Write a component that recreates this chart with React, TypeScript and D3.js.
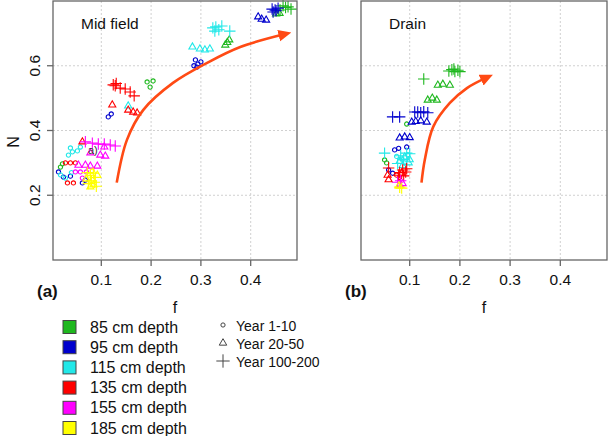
import React from "react";
import * as d3 from "d3";

// ---- data: [f, N, yearGroup]  (0 = Year 1-10, 1 = Year 20-50, 2 = Year 100-200)
const depthLabels = ["85 cm depth", "95 cm depth", "115 cm depth", "135 cm depth", "155 cm depth", "185 cm depth"];
const yearLabels = ["Year 1-10", "Year 20-50", "Year 100-200"];
const xTicks = [0.1, 0.2, 0.3, 0.4];
const yTicks = [0.2, 0.4, 0.6];
const panelTitles = ["Mid field", "Drain"];
const panelTags = ["(a)", "(b)"];

const mid85 = [[0.192,0.550,0],[0.198,0.534,0],[0.204,0.553,0],[0.018,0.287,0],[0.022,0.297,0],
  [0.349,0.664,1],[0.353,0.672,1],[0.357,0.680,1],[0.451,0.760,1],[0.458,0.762,1],
  [0.459,0.772,2],[0.465,0.785,2],[0.470,0.780,2],[0.475,0.782,2],[0.481,0.775,2]];
const mid95 = [[0.289,0.618,0],[0.294,0.605,0],[0.300,0.612,0],[0.292,0.596,0],[0.286,0.600,0],[0.114,0.442,0],[0.120,0.451,0],[0.014,0.272,0],[0.024,0.256,0],[0.038,0.259,0],[0.062,0.238,0],[0.068,0.247,0],
  [0.415,0.751,1],[0.422,0.744,1],[0.431,0.741,1],
  [0.443,0.775,2],[0.449,0.772,2],[0.455,0.778,2],[0.445,0.766,2],[0.451,0.770,2]];
const mid115 = [[0.038,0.346,0],[0.042,0.334,0],[0.034,0.324,0],[0.052,0.337,0],[0.058,0.349,0],[0.018,0.263,0],[0.028,0.253,0],[0.040,0.270,0],
  [0.283,0.658,1],[0.298,0.652,1],[0.308,0.649,1],[0.318,0.652,1],[0.154,0.476,1],
  [0.324,0.717,2],[0.330,0.720,2],[0.336,0.711,2],[0.342,0.723,2],[0.328,0.707,2],[0.358,0.707,2]];
const mid135 = [[0.028,0.300,0],[0.038,0.300,0],[0.048,0.300,0],[0.032,0.238,0],[0.044,0.238,0],
  [0.122,0.479,1],[0.154,0.463,1],[0.164,0.457,1],[0.172,0.454,1],[0.062,0.365,1],
  [0.124,0.541,2],[0.128,0.538,2],[0.138,0.531,2],[0.148,0.528,2],[0.158,0.519,2],[0.166,0.507,2],[0.130,0.545,2]];
const mid155 = [[0.048,0.272,0],[0.058,0.272,0],[0.070,0.272,0],[0.062,0.253,0],
  [0.078,0.331,1],[0.098,0.324,1],[0.108,0.321,1],[0.054,0.293,1],[0.068,0.293,1],[0.078,0.290,1],[0.092,0.290,1],[0.106,0.349,1],
  [0.068,0.365,2],[0.082,0.361,2],[0.094,0.358,2],[0.106,0.358,2],[0.118,0.355,2],[0.128,0.352,2]];
const mid185 = [[0.072,0.270,2],[0.078,0.262,2],[0.084,0.268,2],[0.088,0.255,2],[0.080,0.245,2],[0.074,0.236,2],[0.086,0.240,2],[0.090,0.228,2],
  [0.078,0.226,1],[0.084,0.232,1],[0.070,0.250,1],[0.092,0.262,1],[0.082,0.275,0],[0.076,0.255,0]];

const drain85 = [[0.094,0.420,0],[0.050,0.309,0],[0.054,0.300,0],
  [0.156,0.540,1],[0.166,0.543,1],[0.180,0.540,1],[0.136,0.494,1],[0.145,0.500,1],[0.154,0.494,1],
  [0.128,0.559,2],[0.178,0.584,2],[0.184,0.588,2],[0.190,0.582,2],[0.196,0.586,2],[0.200,0.582,2],[0.188,0.590,2]];
const drain95 = [[0.070,0.340,0],[0.078,0.345,0],[0.094,0.349,0],[0.058,0.278,0],[0.066,0.268,0],
  [0.104,0.426,1],[0.112,0.428,1],[0.122,0.430,1],[0.134,0.426,1],[0.080,0.377,1],[0.090,0.380,1],[0.100,0.378,1],
  [0.110,0.457,2],[0.116,0.457,2],[0.122,0.455,2],[0.128,0.458,2],[0.136,0.455,2],[0.066,0.442,2],[0.080,0.442,2]];
const drain115 = [[0.074,0.320,0],[0.084,0.312,0],[0.096,0.325,0],[0.090,0.300,0],
  [0.080,0.305,1],[0.090,0.318,1],[0.098,0.300,1],[0.086,0.292,1],[0.100,0.310,1],
  [0.050,0.330,2],[0.094,0.330,2],[0.100,0.328,2],[0.082,0.322,2],[0.076,0.298,2],[0.088,0.310,2]];
const drain135 = [[0.074,0.262,0],[0.080,0.255,0],
  [0.056,0.262,1],[0.058,0.248,1],[0.084,0.268,1],
  [0.058,0.284,2],[0.080,0.270,2],[0.086,0.278,2],[0.092,0.272,2],[0.088,0.260,2],[0.094,0.282,2],[0.078,0.262,2]];
const drain155 = [[0.076,0.240,2],[0.082,0.245,2],[0.086,0.236,1],[0.080,0.232,1]];
const drain185 = [[0.080,0.225,2],[0.084,0.222,2],[0.078,0.228,1]];

// trend arrows (data space)
const midArrow = [[0.131,0.239],[0.1515,0.371],[0.184,0.463],[0.244,0.547],[0.3125,0.609],[0.379,0.658],[0.469,0.698]];
const drainArrow = [[0.1235,0.239],[0.130,0.309],[0.147,0.412],[0.180,0.485],[0.214,0.531],[0.254,0.564]];

const midSeries = [mid85, mid95, mid115, mid135, mid155, mid185];
const drainSeries = [drain85, drain95, drain115, drain135, drain155, drain185];

const colors = ["#1FB81F", "#0000CD", "#22E8E8", "#FF0000", "#FF00FF", "#FFFF00"];
const FONT = "'Liberation Sans', Arial, sans-serif";
const ARROW = "#FF4A14";

const yScale = d3.scaleLinear().domain([0, 0.8]).range([260, 1]);

const circ = d3.symbol(d3.symbolCircle, 14)();
const tri = d3.symbol(d3.symbolTriangle2, 36)();
const plus = d3.symbol(d3.symbolPlus, 45)();
const shapes = [circ, tri, plus];

function Panel({ series, arrow, x0, x1, title, tag, showY, id }) {
  const xs = d3.scaleLinear().domain([0.003, 0.493]).range([x0, x1]);
  const line = d3.line().x((d) => xs(d[0])).y((d) => yScale(d[1])).curve(d3.curveCatmullRom);
  const [top, bottom] = [yScale.range()[1], yScale.range()[0]];
  return (
    <g>
      {xTicks.map((t) => (
        <line key={"gx" + t} x1={xs(t)} x2={xs(t)} y1={top} y2={bottom} stroke="#d0d0d0" strokeDasharray="2,2" />
      ))}
      {yTicks.map((t) => (
        <line key={"gy" + t} x1={x0} x2={x1} y1={yScale(t)} y2={yScale(t)} stroke="#d0d0d0" strokeDasharray="2,2" />
      ))}
      {series.map((s, i) => (
        <g key={i} stroke={colors[i]} fill="none" strokeWidth={1.1}>
          {s.map((d, j) => (
            <path key={j} d={shapes[d[2]]} transform={`translate(${xs(d[0])},${yScale(d[1])})`} />
          ))}
        </g>
      ))}
      <defs>
        <marker id={id} viewBox="0 0 10 10" refX="5" refY="5" markerWidth="5" markerHeight="5" orient="auto" markerUnits="strokeWidth">
          <path d="M0,0.5 L10,5 L0,9.5 Z" fill={ARROW} />
        </marker>
      </defs>
      <path d={line(arrow)} fill="none" stroke={ARROW} strokeWidth={2.6} markerEnd={`url(#${id})`} />
      <rect x={x0} y={top} width={x1 - x0} height={bottom - top} fill="none" stroke="#666" strokeWidth={1.3} />
      {xTicks.map((t) => (
        <g key={"tx" + t}>
          <line x1={xs(t)} x2={xs(t)} y1={bottom} y2={bottom + 6} stroke="#666" strokeWidth={1.3} />
          <text x={xs(t)} y={285} textAnchor="middle" fontSize={15.5} fontFamily={FONT} fill="#111">{t.toFixed(1)}</text>
        </g>
      ))}
      {showY && yTicks.map((t) => (
        <g key={"ty" + t}>
          <line x1={x0} x2={x0 - 6} y1={yScale(t)} y2={yScale(t)} stroke="#666" strokeWidth={1.3} />
          <text transform={`translate(40,${yScale(t)}) rotate(-90)`} textAnchor="middle" fontSize={15.5} fontFamily={FONT} fill="#111">{t.toFixed(1)}</text>
        </g>
      ))}
      <text x={x0 + 28} y={29} fontSize={15.5} fontFamily={FONT} fill="#111">{title}</text>
      <text x={(x0 + x1) / 2} y={313} textAnchor="middle" fontSize={16} fontFamily={FONT} fill="#111">f</text>
      <text x={x0 - 16} y={297} fontSize={17} fontWeight="bold" fontFamily={FONT} fill="#111">{tag}</text>
    </g>
  );
}

export default function App() {
  return (
    <svg width={609} height={436} style={{ position: "absolute", left: 0, top: 0, background: "#fff" }}>
      <Panel series={midSeries} arrow={midArrow} x0={53} x1={297} title={panelTitles[0]} tag={panelTags[0]} showY id="arrA" />
      <Panel series={drainSeries} arrow={drainArrow} x0={361} x1={607} title={panelTitles[1]} tag={panelTags[1]} showY={false} id="arrB" />
      <text x={7} y={130} transform="rotate(-90,19,130)" textAnchor="middle" fontSize={16} fontFamily={FONT} fill="#111">N</text>
      <text x={88} y={154} fontSize={11} fontFamily={FONT} fill="#333">a)</text>
      {depthLabels.map((l, i) => (
        <g key={l}>
          <rect x={63} y={320.5 + i * 20.2} width={13} height={13} fill={colors[i]} stroke="#444" strokeWidth={1} />
          <text x={90} y={332.5 + i * 20.2} fontSize={16} fontFamily={FONT} fill="#111">{l}</text>
        </g>
      ))}
      {yearLabels.map((l, i) => (
        <g key={l}>
          <path d={d3.symbol([d3.symbolCircle, d3.symbolTriangle2, d3.symbolPlus][i], [14, 40, 60][i])()} transform={`translate(223,${325 + i * 18})`} fill="none" stroke="#444" strokeWidth={1} />
          <text x={236} y={331 + i * 18} fontSize={14} fontFamily={FONT} fill="#111">{l}</text>
        </g>
      ))}
    </svg>
  );
}
